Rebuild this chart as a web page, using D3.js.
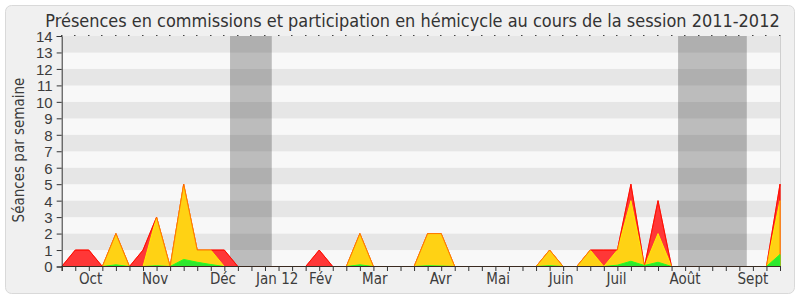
<!DOCTYPE html>
<html>
<head>
<meta charset="utf-8">
<script src="https://cdn.jsdelivr.net/npm/d3@7"></script>
<style>
    body { margin: 0; background: #fff; }
    svg { display: block; font-family: "DejaVu Sans", sans-serif; font-stretch: condensed; }
</style>
</head>
<body>
<div id="chart-area"></div>
<script>
// one value per week, week 0 = start of the session
const weeks = d3.range(0, 54);
const totalSeances = [0, 1, 1, 0, 2, 0, 1, 3, 0, 5, 1, 1, 1, 0, 0, 0, 0, 0, 0, 1,
    0, 0, 2, 0, 0, 0, 0, 2, 2, 0, 0, 0, 0, 0, 0, 0, 1, 0, 0, 1,
    1, 1, 5, 0, 4, 0, 0, 0, 0, 0, 0, 0, 0, 5];
const hemicycle = [0, 0, 0, 0, 2, 0, 0, 3, 0, 5, 1, 1, 0, 0, 0, 0, 0, 0, 0, 0,
    0, 0, 2, 0, 0, 0, 0, 2, 2, 0, 0, 0, 0, 0, 0, 0, 1, 0, 0, 1,
    0, 1, 4, 0, 2, 0, 0, 0, 0, 0, 0, 0, 0, 4];
const interventions = [0, 0, 0, 0, 0.1, 0, 0, 0.05, 0, 0.43, 0.26, 0.12, 0, 0, 0, 0, 0, 0, 0, 0,
    0, 0, 0.1, 0, 0, 0, 0, 0.05, 0.03, 0, 0, 0, 0, 0, 0, 0, 0.05, 0, 0, 0,
    0, 0.08, 0.32, 0.06, 0.26, 0, 0, 0, 0, 0, 0, 0, 0, 0.73];

// vacances parlementaires, in weeks
const vacances = [[12.42, 15.5], [45.48, 50.55]];

const monthLabels = ["Oct", "Nov", "Déc", "Jan 12", "Fév", "Mar", "Avr", "Mai", "Juin", "Juil", "Août", "Sept"];
const monthPos = [2.13, 6.89, 11.9, 15.9, 19.1, 23.1, 27.96, 32.2, 36.85, 40.94, 46.0, 51.0];

const yTicks = d3.range(0, 15);

const title = "Présences en commissions et participation en hémicycle au cours de la session 2011-2012";

function renderChart() {
    const width = 800, height = 300;
    const plot = { left: 61.7, right: 780, top: 36, bottom: 266.5 };

    const svg = d3.select("#chart-area")
        .append("svg")
        .attr("width", width)
        .attr("height", height);

    svg.append("rect")
        .attr("x", 5.5).attr("y", 5.5)
        .attr("width", 789).attr("height", 288)
        .attr("rx", 6)
        .attr("fill", "#f0f0f0")
        .attr("stroke", "#d9d9d9");

    const x = d3.scaleLinear().domain([0, 53]).range([plot.left, plot.right]);
    const y = d3.scaleLinear().domain([0, 14]).range([plot.bottom, plot.top]);

    // stripes
    svg.append("g").selectAll("rect")
        .data(d3.range(0, 14))
        .join("rect")
        .attr("x", plot.left)
        .attr("y", d => y(d + 1))
        .attr("width", plot.right - plot.left)
        .attr("height", d => y(d) - y(d + 1))
        .attr("fill", d => d % 2 ? "#e6e6e6" : "#f8f8f8");

    svg.append("g").selectAll("rect")
        .data(vacances)
        .join("rect")
        .attr("x", d => x(d[0]))
        .attr("y", plot.top)
        .attr("width", d => x(d[1]) - x(d[0]))
        .attr("height", plot.bottom - plot.top)
        .attr("fill", "#000")
        .attr("fill-opacity", 0.24);

    svg.append("line")
        .attr("x1", plot.right + 0.5).attr("x2", plot.right + 0.5)
        .attr("y1", plot.top).attr("y2", plot.bottom)
        .attr("stroke", "#cfcfcf");

    const area = values => d3.area()
        .x(d => x(d))
        .y0(y(0))
        .y1(d => y(values[d]))(weeks);

    svg.append("path").attr("d", area(totalSeances))
        .attr("fill", "#ff3737").attr("stroke", "#ff0000");
    svg.append("path").attr("d", area(hemicycle))
        .attr("fill", "#ffd214").attr("stroke", "#ffee00");
    svg.append("path").attr("d", area(totalSeances))
        .attr("fill", "none").attr("stroke", "#ff1a00").attr("stroke-opacity", 0.55);
    svg.append("path").attr("d", area(interventions))
        .attr("fill", "#2ee82e").attr("stroke", "#22ff22");

    // axes
    const axisColor = "#333";
    const textColor = "#3c3c3c";

    svg.append("g").selectAll("rect")
        .data(weeks)
        .join("rect")
        .attr("x", d => Math.round(x(d)) - 1)
        .attr("y", plot.top - 1)
        .attr("width", 1.5).attr("height", 1)
        .attr("fill", "#444");

    const xAxis = svg.append("g")
        .attr("transform", `translate(0,${plot.bottom - 0.5})`)
        .call(d3.axisBottom(x).tickValues(weeks).tickSize(5).tickFormat(""));
    xAxis.select(".domain").attr("stroke", "#3a2a20");
    xAxis.selectAll(".tick line").attr("stroke", axisColor);

    svg.append("g").selectAll("text")
        .data(monthLabels)
        .join("text")
        .attr("x", (d, i) => x(monthPos[i]))
        .attr("y", 284)
        .attr("text-anchor", "middle")
        .attr("font-size", 15)
        .attr("fill", textColor)
        .text(d => d);

    const yAxis = svg.append("g")
        .attr("transform", `translate(${plot.left},0)`)
        .call(d3.axisLeft(y).tickValues(yTicks).tickSize(5).tickPadding(4).tickFormat(d3.format("d")));
    yAxis.select(".domain").attr("stroke", axisColor);
    yAxis.selectAll(".tick line").attr("stroke", axisColor);
    yAxis.selectAll(".tick text")
        .attr("font-family", null)
        .attr("font-size", 15)
        .attr("fill", textColor)
        .attr("dy", "0.36em");

    svg.append("text")
        .attr("transform", "translate(24,150) rotate(-90)")
        .attr("text-anchor", "middle")
        .attr("font-size", 15)
        .attr("fill", textColor)
        .text("Séances par semaine");

    const t = svg.append("text")
        .attr("x", 412.5)
        .attr("y", 26.5)
        .attr("text-anchor", "middle")
        .attr("font-size", 16)
        .attr("fill", "#333")
        .text(title);
    const w = t.node().getComputedTextLength();
    t.attr("font-size", 16 * 735 / w);
}

window.addEventListener('DOMContentLoaded', renderChart);
</script>
</body>
</html>
